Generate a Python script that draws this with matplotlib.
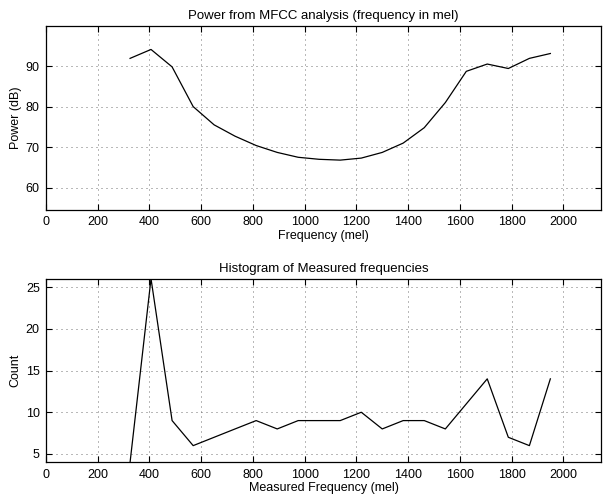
#!/usr/bin/env python

import matplotlib
matplotlib.use("Agg")
import matplotlib.pyplot as plt

plt.rcParams["font.family"] = ["Liberation Sans", "DejaVu Sans"]
plt.rcParams["font.size"] = 9

# mel band centres
MEL = [325, 406, 487.5, 569, 650, 731, 812.5, 894, 975, 1056, 1137.5,
       1219, 1300, 1381, 1462.5, 1544, 1625, 1706, 1787.5, 1869, 1950]
POWER = [91.9, 94.1, 89.8, 80.0, 75.5, 72.7, 70.4, 68.7, 67.5, 67.0, 66.8,
         67.3, 68.7, 71.0, 74.8, 81.0, 88.7, 90.5, 89.4, 91.9, 93.1]
COUNT = [4, 26, 9, 6, 7, 8, 9, 8, 9, 9, 9, 10, 8, 9, 9, 8, 11, 14, 7, 6, 14]
XTICKS = list(range(0, 2001, 200))


def style(ax):
    ax.grid(True, linestyle=(0, (1.2, 4.8)), color="0.35", linewidth=0.6)
    ax.tick_params(direction="in", length=4, width=0.8, top=True, right=True,
                   labelsize=9, pad=4.5)
    for s in ax.spines.values():
        s.set_linewidth(0.9)
    ax.set_xticks(XTICKS)
    ax.set_xlim(0, 2147)


fig = plt.figure(figsize=(6.07, 4.99), dpi=100)

ax1 = fig.add_axes([0.0758, 0.5792, 0.9148, 0.368])
ax1.plot(MEL, POWER, color="k", linewidth=0.9)
style(ax1)
ax1.set_ylim(54.5, 99.8)
ax1.set_yticks([60, 70, 80, 90])
ax1.set_title("Power from MFCC analysis (frequency in mel)", fontsize=9.5, pad=5)
ax1.set_xlabel("Frequency (mel)", fontsize=9, labelpad=1)
ax1.set_ylabel("Power (dB)", fontsize=9, labelpad=3)

ax2 = fig.add_axes([0.0758, 0.0735, 0.9148, 0.368])
ax2.plot(MEL, COUNT, color="k", linewidth=0.9)
style(ax2)
ax2.set_ylim(4, 26)
ax2.set_yticks([5, 10, 15, 20, 25])
ax2.set_title("Histogram of Measured frequencies", fontsize=9.5, pad=5)
ax2.set_xlabel("Measured Frequency (mel)", fontsize=9, labelpad=1)
ax2.set_ylabel("Count", fontsize=9, labelpad=3)

fig.savefig("out.png", dpi=100)
